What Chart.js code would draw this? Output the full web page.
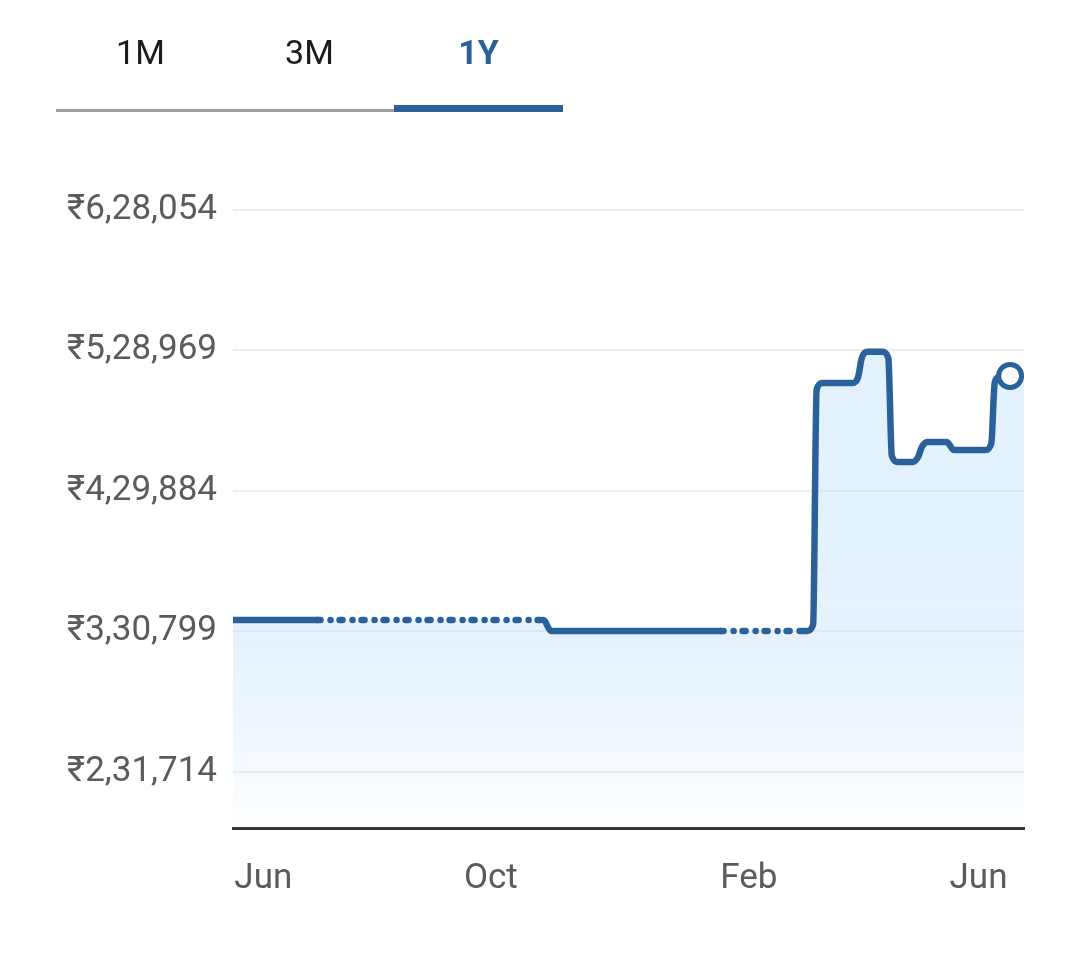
<!DOCTYPE html>
<html>
<head>
<meta charset="utf-8">
<script src="https://cdn.jsdelivr.net/npm/chart.js@4.4.1/dist/chart.umd.min.js"></script>
<style>
html,body{margin:0;padding:0;background:#fff;width:1080px;height:955px;overflow:hidden;font-family:Roboto,"Noto Sans",sans-serif}
#wrap{position:absolute;left:0;top:0;width:1080px;height:955px}
canvas{display:block}
.tab{position:absolute;top:30px;width:169px;text-align:center;font-size:34px;line-height:44px;color:#1b1b1b}
.tab.active{color:#2a619b;font-weight:bold}
.uline{position:absolute;left:56px;top:109px;width:338px;height:3px;background:#9e9e9e}
.aline{position:absolute;left:394px;top:105px;width:169px;height:7px;background:#2a619b}
</style>
</head>
<body>
<div id="wrap"><canvas id="c" width="1080" height="955" style="width:1080px;height:955px"></canvas></div>
<div class="tab" style="left:56px">1M</div>
<div class="tab" style="left:225px">3M</div>
<div class="tab active" style="left:394px">1Y</div>
<div class="uline"></div>
<div class="aline"></div>
<script>
// ---- data (day offsets from start, value in ₹) ----
const days   = [0, 39, 143.3, 146.7, 225, 262,
                265, 267.7, 269.3, 272,
                285.8, 288.5, 290.1, 292.8,
                299.7, 302.4, 304.0, 306.7,
                313.6, 316.2, 317.8, 320.4,
                329.3, 332.7,
                347.2, 349.9, 351.5, 354.2, 358.6];
const values = [338900, 338900, 338900, 331150, 331150, 331150,
                331150, 335800, 501300, 506000,
                506000, 510500, 523500, 528000,
                528000, 523500, 454800, 450300,
                450300, 454000, 460700, 464400,
                464400, 458800,
                458800, 463300, 506500, 511000, 511000];
const dashedSegments = [1, 4];
const yTicks = [231714, 330799, 429884, 528969, 628054];
const xTickDays = [14, 119, 238, 344];
const xTickLabels = ['Jun', 'Oct', 'Feb', 'Jun'];
const xMax = 365;
const yMin = 192218, yMax = 628054;

const LINE = '#2a619b';

function inr(v) {
  const s = String(Math.round(v));
  if (s.length <= 3) return '₹' + s;
  const last3 = s.slice(-3);
  let rest = s.slice(0, -3);
  const parts = [];
  while (rest.length > 2) { parts.unshift(rest.slice(-2)); rest = rest.slice(0, -2); }
  if (rest.length) parts.unshift(rest);
  return '₹' + parts.join(',') + ',' + last3;
}

function fillGrad(ctx) {
  const chart = ctx.chart;
  const a = chart.chartArea;
  if (!a) return 'rgba(187,222,251,0.4)';
  const g = chart.ctx.createLinearGradient(0, a.top, 0, a.bottom);
  g.addColorStop(0, 'rgba(187,222,251,0.44)');
  g.addColorStop(0.7, 'rgba(187,222,251,0.38)');
  g.addColorStop(1, 'rgba(187,222,251,0.04)');
  return g;
}

Chart.defaults.font.family = 'Roboto, "Noto Sans", sans-serif';

const last = days.length - 1;
const lineData = days.map((d, i) => ({x: d, y: values[i]}));
const fillData = lineData.concat([{x: xMax, y: values[last]}]);

new Chart(document.getElementById('c'), {
  type: 'line',
  data: {
    datasets: [
      {
        data: lineData,
        borderColor: LINE,
        borderWidth: 6.5,
        borderCapStyle: 'round',
        borderJoinStyle: 'round',
        cubicInterpolationMode: 'monotone',
        fill: false,
        pointRadius: ctx => ctx.dataIndex === last ? 11.5 : 0,
        pointHoverRadius: 0,
        pointBackgroundColor: '#ffffff',
        pointBorderColor: LINE,
        pointBorderWidth: 5,
        segment: {
          borderDash: ctx => dashedSegments.includes(ctx.p0DataIndex) ? [3, 10, 0.01, 9] : undefined
        }
      },
      {
        data: fillData,
        borderWidth: 0,
        borderColor: 'rgba(0,0,0,0)',
        pointRadius: 0,
        cubicInterpolationMode: 'monotone',
        fill: 'start',
        backgroundColor: fillGrad
      }
    ]
  },
  options: {
    responsive: false,
    animation: false,
    events: [],
    layout: {padding: {top: 210, left: 0, right: 56, bottom: 0}},
    plugins: {legend: {display: false}, tooltip: {enabled: false}},
    scales: {
      x: {
        type: 'linear',
        min: 0,
        max: xMax,
        afterBuildTicks: s => { s.ticks = xTickDays.map(v => ({value: v})); },
        afterFit: s => { s.height = 127; },
        grid: {display: false, drawTicks: false},
        border: {display: true, color: '#333333', width: 3},
        ticks: {
          callback: (v, i) => xTickLabels[i],
          font: {size: 35},
          color: '#5b5b5b',
          padding: 30,
          maxRotation: 0,
          autoSkip: false
        }
      },
      y: {
        min: yMin,
        max: yMax,
        afterBuildTicks: s => { s.ticks = yTicks.map(v => ({value: v})); },
        afterFit: s => { s.width = 233; },
        grid: {color: '#eeeeee', lineWidth: 2, drawTicks: false},
        border: {display: false},
        ticks: {
          callback: v => inr(v),
          font: {size: 35},
          color: '#5b5b5b',
          padding: 16,
          autoSkip: false
        }
      }
    }
  }
});
</script>
</body>
</html>
